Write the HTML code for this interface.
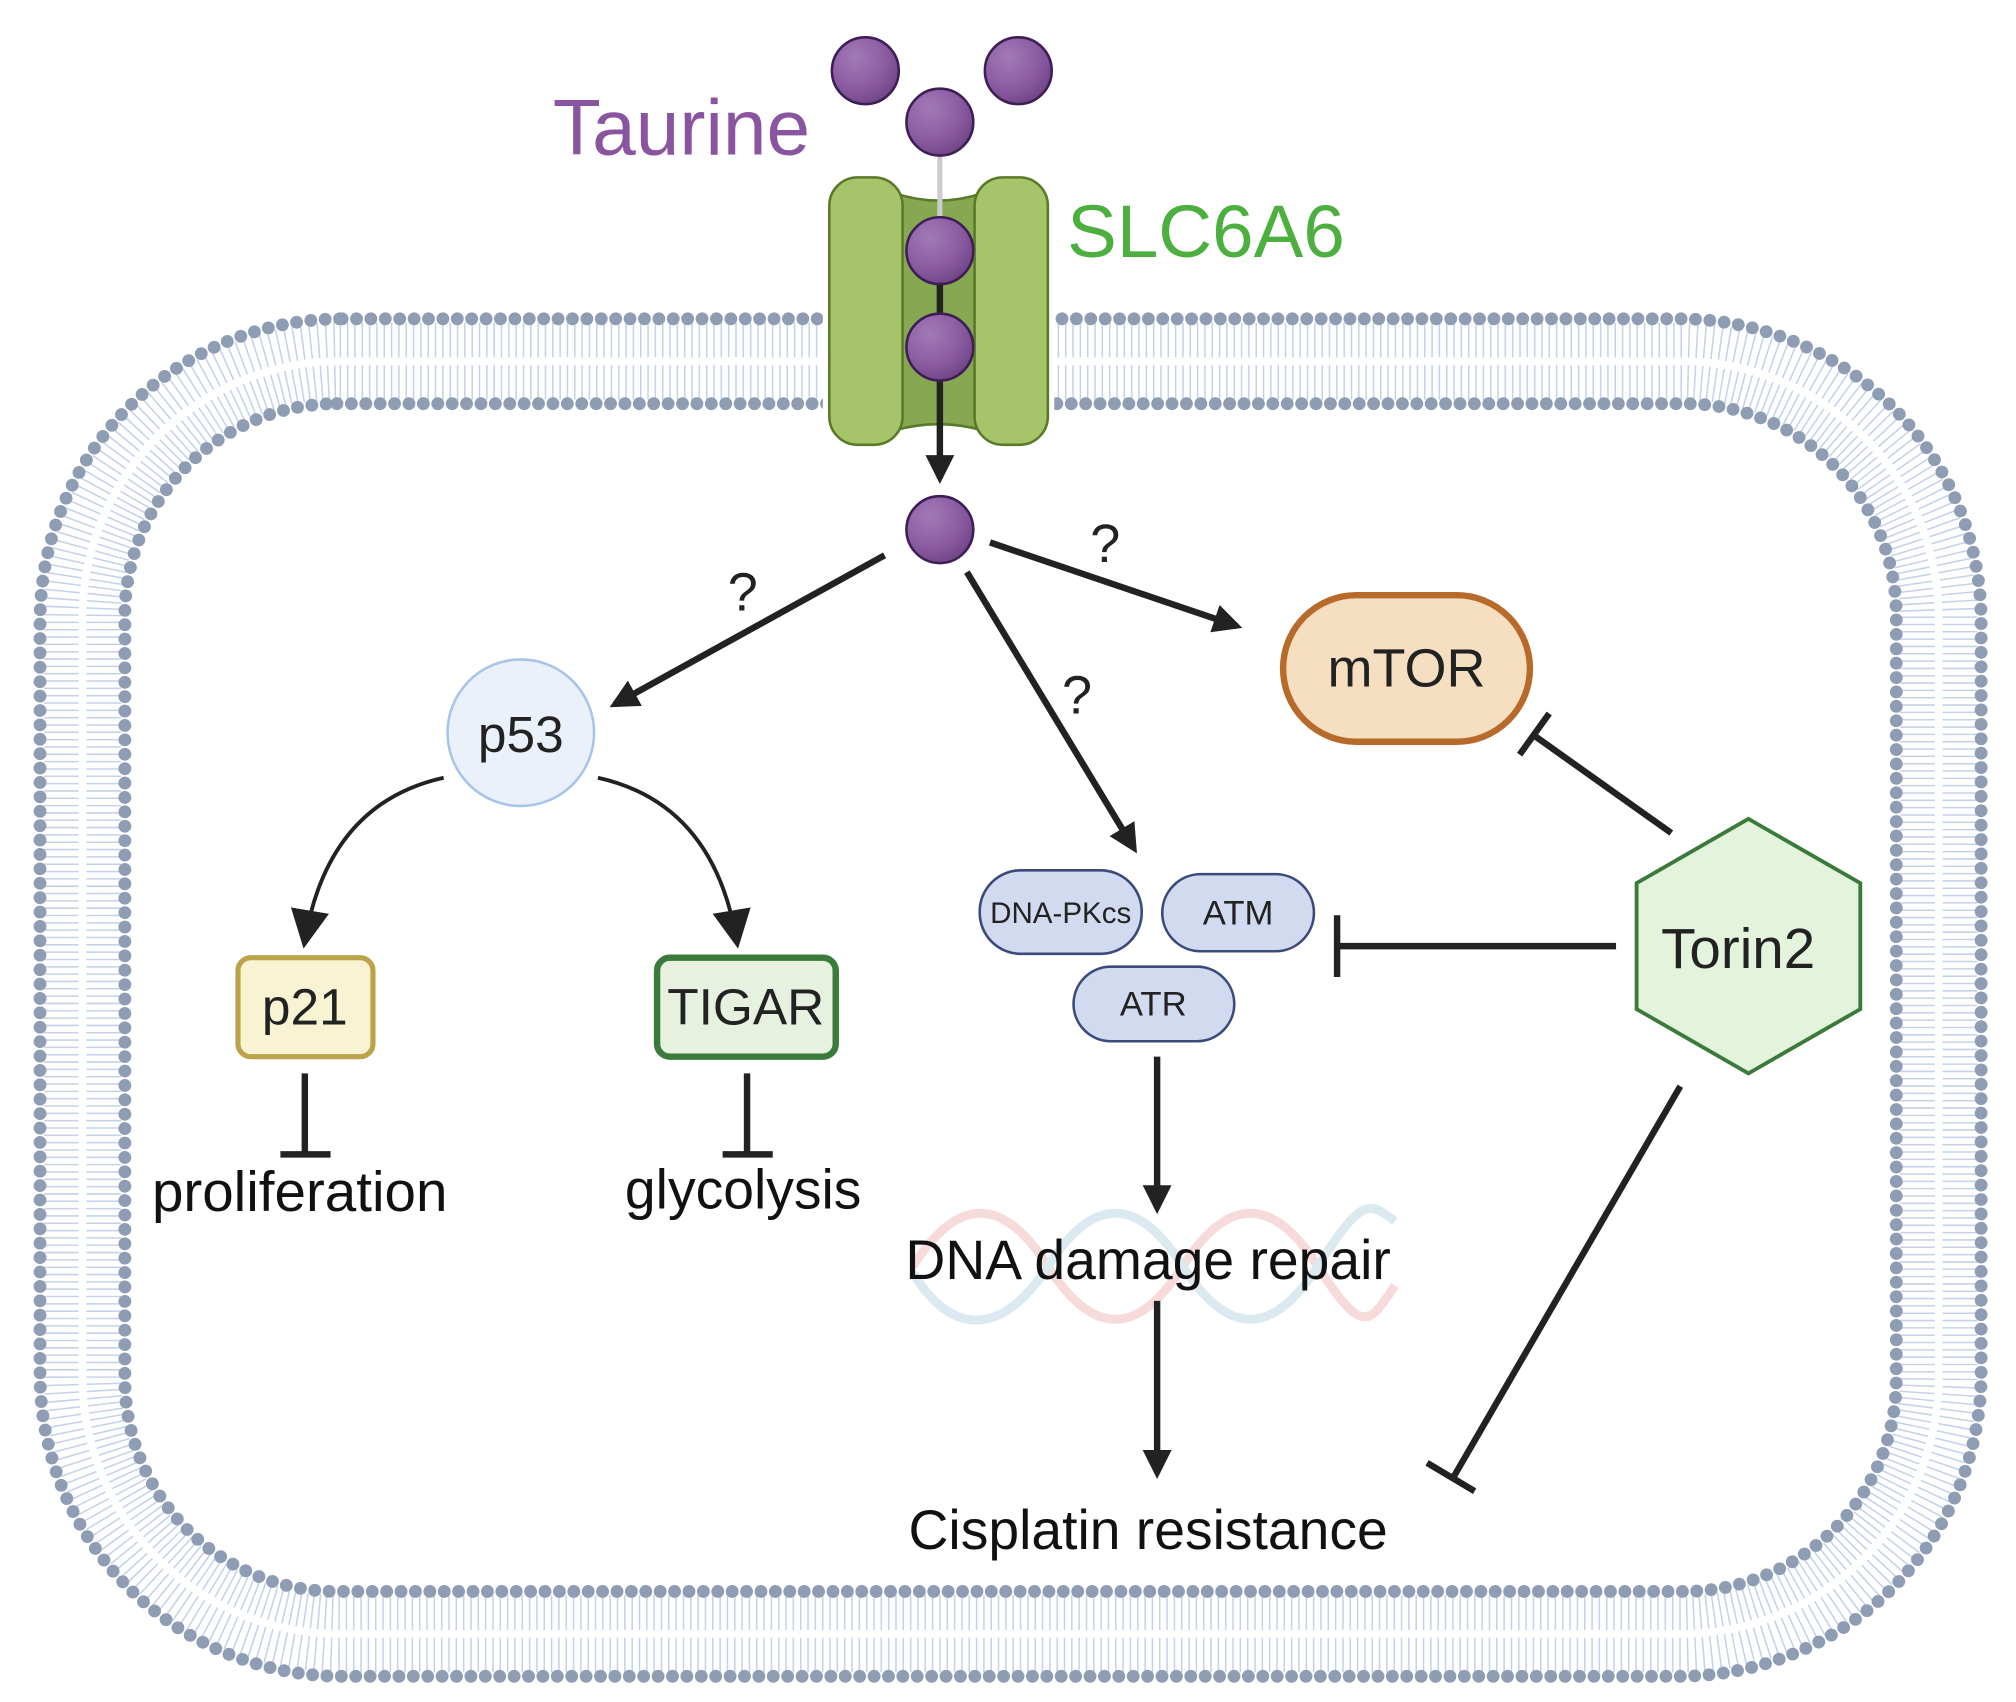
<!DOCTYPE html>
<html><head><meta charset="utf-8"><style>html,body{margin:0;padding:0;background:#fff}svg{display:block}text{font-family:"Liberation Sans",sans-serif}</style></head><body>
<svg width="2016" height="1702" viewBox="0 0 1568 1324" xmlns="http://www.w3.org/2000/svg">
<defs>
<marker id="ah" viewBox="0 0 10 10" refX="8" refY="5" markerWidth="4.5" markerHeight="4.5" orient="auto"><path d="M0,0 L10,5 L0,10 z" fill="#222"/></marker>
<marker id="ah2" viewBox="0 0 10 10" refX="8" refY="5" markerWidth="30" markerHeight="30" markerUnits="userSpaceOnUse" orient="auto"><path d="M0,0 L10,5 L0,10 z" fill="#222"/></marker>
<radialGradient id="sp" cx="0.35" cy="0.3" r="0.8"><stop offset="0" stop-color="#a27ab8"/><stop offset="0.6" stop-color="#8a5aa0"/><stop offset="1" stop-color="#6a4080"/></radialGradient>
</defs>
<rect x="64" y="281" width="1444" height="990" rx="200" fill="none" stroke="#c4d2ea" stroke-width="60" stroke-dasharray="1.2 4.5"/>
<rect x="64" y="281" width="1444" height="990" rx="200" fill="none" stroke="#fff" stroke-width="6"/>
<rect x="31" y="248" width="1510" height="1056" rx="235" fill="none" stroke="#8e9db4" stroke-width="10" stroke-linecap="round" stroke-dasharray="0 11.2"/>
<rect x="97" y="314" width="1378" height="924" rx="165" fill="none" stroke="#8e9db4" stroke-width="10" stroke-linecap="round" stroke-dasharray="0 11.2"/>
<rect x="640" y="230" width="180" height="100" fill="#fff"/>
<path d="M695,150 Q730,162 765,150 L765,335 Q730,325 695,335 Z" fill="#86a851" stroke="#5a7a2a" stroke-width="2"/>
<rect x="645" y="138" width="57" height="208" rx="22" fill="#a6c46a" stroke="#5a7a2a" stroke-width="2"/>
<rect x="758" y="138" width="57" height="208" rx="22" fill="#a6c46a" stroke="#5a7a2a" stroke-width="2"/>
<line x1="731" y1="110" x2="731" y2="170" stroke="#ccc" stroke-width="4"/>
<line x1="731" y1="200" x2="731" y2="372" stroke="#222" stroke-width="5" marker-end="url(#ah)"/>
<g fill="url(#sp)" stroke="#3e1f55" stroke-width="2">
<circle cx="673" cy="55" r="26"/><circle cx="792" cy="55" r="26"/><circle cx="731" cy="95" r="26"/>
<circle cx="731" cy="195" r="26"/><circle cx="731" cy="270" r="26"/><circle cx="731" cy="412" r="26"/>
</g>
<text x="430" y="120" font-size="61" fill="#8a55a0">Taurine</text>
<text x="830" y="200" font-size="58" fill="#4caf3f">SLC6A6</text>
<g stroke="#222" stroke-width="5" fill="none">
<line x1="688" y1="432" x2="478" y2="548" marker-end="url(#ah)"/>
<line x1="770" y1="422" x2="962" y2="487" marker-end="url(#ah)"/>
<line x1="752" y1="445" x2="882" y2="660" marker-end="url(#ah)"/>
<path d="M345,605 Q255,625 237,732" marker-end="url(#ah2)" stroke-width="3"/>
<path d="M465,605 Q555,625 573,732" marker-end="url(#ah2)" stroke-width="3"/>
<line x1="237" y1="835" x2="237" y2="898"/><line x1="218" y1="898" x2="257" y2="898"/>
<line x1="581" y1="835" x2="581" y2="898"/><line x1="562" y1="898" x2="601" y2="898"/>
<line x1="1300" y1="648" x2="1193" y2="572"/><line x1="1182" y1="587" x2="1205" y2="555"/>
<line x1="1257" y1="736" x2="1040" y2="736"/><line x1="1040" y1="712" x2="1040" y2="760"/>
<line x1="1307" y1="845" x2="1130" y2="1150"/><line x1="1110" y1="1138" x2="1147" y2="1160"/>
</g>
<g font-size="42" fill="#222"><text x="566" y="475">?</text><text x="848" y="437">?</text><text x="826" y="555">?</text></g>
<circle cx="405" cy="570" r="57" fill="#eaf1fa" stroke="#a8c4e8" stroke-width="2"/>
<text x="405" y="585" font-size="40" text-anchor="middle" fill="#222">p53</text>
<rect x="185" y="745" width="105" height="77" rx="10" fill="#f7f3d3" stroke="#bca24a" stroke-width="4"/>
<text x="237" y="797" font-size="40" text-anchor="middle" fill="#222">p21</text>
<rect x="511" y="745" width="139" height="77" rx="10" fill="#e6f1df" stroke="#3a7a3a" stroke-width="5"/>
<text x="580" y="797" font-size="40" text-anchor="middle" fill="#222">TIGAR</text>
<text x="233" y="942" font-size="44" text-anchor="middle" fill="#111">proliferation</text>
<text x="578" y="940" font-size="43" text-anchor="middle" fill="#111">glycolysis</text>
<rect x="998" y="463" width="192" height="114" rx="57" fill="#f5dfc0" stroke="#b86a2a" stroke-width="5"/>
<text x="1094" y="534" font-size="42" text-anchor="middle" fill="#222">mTOR</text>
<polygon points="1360,637 1447,687 1447,785 1360,835 1273,785 1273,687" fill="#e4f4dc" stroke="#3a7a3a" stroke-width="3"/>
<text x="1352" y="753" font-size="44" text-anchor="middle" fill="#222">Torin2</text>
<g fill="#d2daf0" stroke="#3a4a7a" stroke-width="2">
<rect x="762" y="677" width="126" height="65" rx="32"/>
<rect x="904" y="680" width="118" height="60" rx="30"/>
<rect x="835" y="752" width="125" height="58" rx="29"/>
</g>
<text x="825" y="718" font-size="23" text-anchor="middle" fill="#222">DNA-PKcs</text>
<text x="963" y="719" font-size="27" text-anchor="middle" fill="#222">ATM</text>
<text x="897" y="790" font-size="27" text-anchor="middle" fill="#222">ATR</text>
<g fill="none" stroke-width="7" opacity="0.5">
<path d="M710,985 C745,930 780,930 815,985 S885,1040 920,985 S990,930 1025,985 S1065,1030 1085,1000" stroke="#f0b8b8"/>
<path d="M710,990 C740,1040 780,1040 815,985 S885,930 920,985 S990,1040 1025,985 S1065,935 1085,950" stroke="#b8d4e4"/>
</g>
<g stroke="#222" stroke-width="5">
<line x1="900" y1="822" x2="900" y2="940" marker-end="url(#ah)"/>
<line x1="900" y1="1012" x2="900" y2="1146" marker-end="url(#ah)"/>
</g>
<text x="893" y="995" font-size="43" text-anchor="middle" fill="#111">DNA damage repair</text>
<text x="893" y="1205" font-size="43" text-anchor="middle" fill="#111">Cisplatin resistance</text>
</svg>
</body></html>
